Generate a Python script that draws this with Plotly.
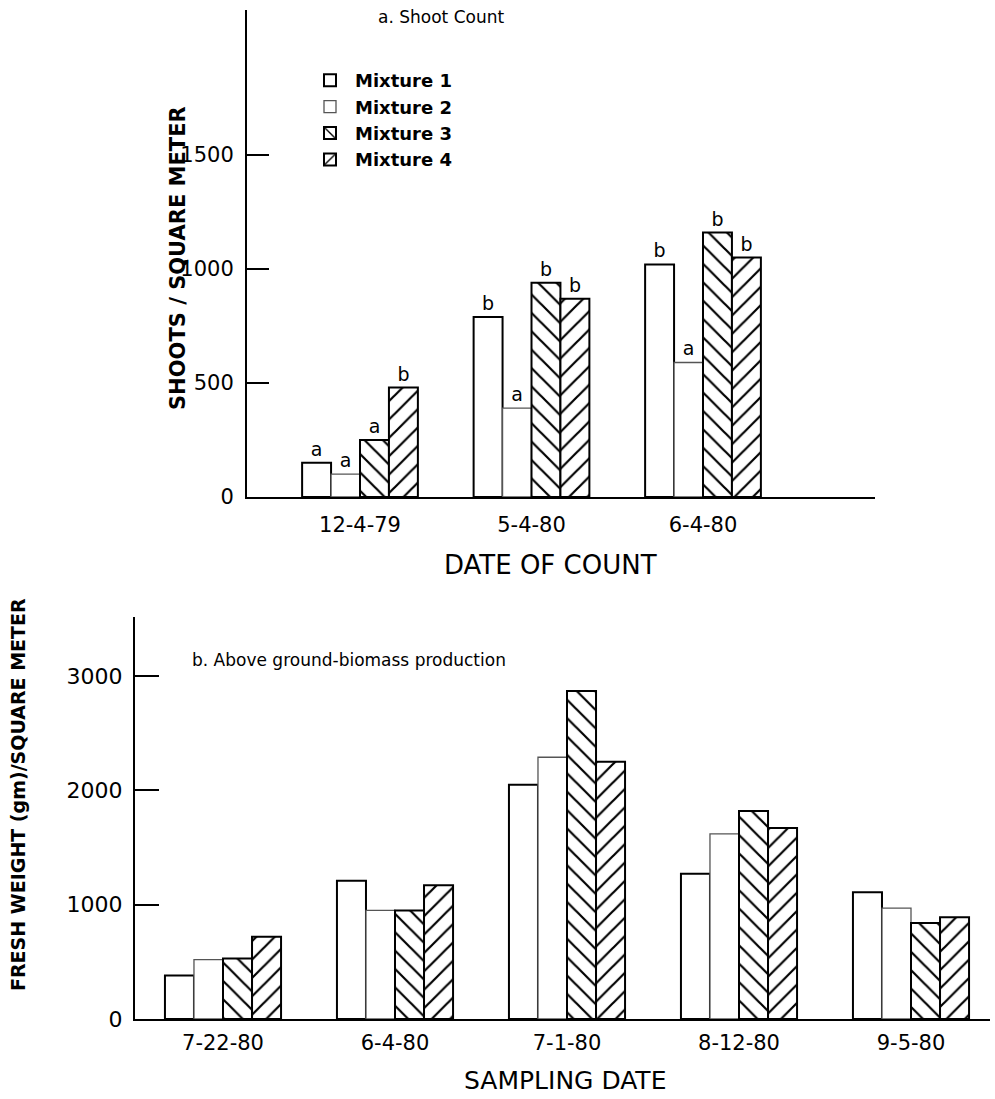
import plotly.graph_objects as go

# ---------------- data ----------------
mixtures = ["Mixture 1", "Mixture 2", "Mixture 3", "Mixture 4"]

count_dates = ["12-4-79", "5-4-80", "6-4-80"]
shoot_m1 = [150, 790, 1020]
shoot_m2 = [100, 390, 590]
shoot_m3 = [250, 940, 1160]
shoot_m4 = [480, 870, 1050]
shoot_sig_m1 = ["a", "b", "b"]
shoot_sig_m2 = ["a", "a", "a"]
shoot_sig_m3 = ["a", "b", "b"]
shoot_sig_m4 = ["b", "b", "b"]

sample_dates = ["7-22-80", "6-4-80", "7-1-80", "8-12-80", "9-5-80"]
bio_m1 = [380, 1210, 2050, 1270, 1110]
bio_m2 = [520, 950, 2290, 1620, 970]
bio_m3 = [530, 950, 2870, 1820, 840]
bio_m4 = [720, 1170, 2250, 1670, 890]

shoot_ticks = [0, 500, 1000, 1500]
bio_ticks = [0, 1000, 2000, 3000]

# ---------------- styling ----------------
FONT = "DejaVu Sans"
W, H = 995, 1099

def px_x(p):
    return p / W

def px_y(p):
    return 1 - p / H

def hatch(shape):
    return dict(shape=shape, fgcolor="black", bgcolor="white", fgopacity=1,
                size=13, solidity=0.17, fillmode="overlay")

styles = [
    dict(color="white", line=dict(color="black", width=2)),
    dict(color="white", line=dict(color="#555555", width=1.3)),
    dict(color="white", line=dict(color="black", width=2), pattern=hatch("\\")),
    dict(color="white", line=dict(color="black", width=2), pattern=hatch("/")),
]

fig = go.Figure()

shoot_vals = [shoot_m1, shoot_m2, shoot_m3, shoot_m4]
shoot_sigs = [shoot_sig_m1, shoot_sig_m2, shoot_sig_m3, shoot_sig_m4]
for name, vals, sig, st in zip(mixtures, shoot_vals, shoot_sigs, styles):
    fig.add_trace(go.Bar(
        x=count_dates, y=vals, name=name, marker=st,
        text=sig, textposition="outside", cliponaxis=False,
        textfont=dict(family=FONT, size=19, color="black"),
        xaxis="x", yaxis="y", legendgroup=name,
    ))

bio_vals = [bio_m1, bio_m2, bio_m3, bio_m4]
for name, vals, st in zip(mixtures, bio_vals, styles):
    fig.add_trace(go.Bar(
        x=sample_dates, y=vals, name=name, marker=st, showlegend=False,
        xaxis="x2", yaxis="y2", legendgroup=name,
    ))

def axis_common(tick_size):
    return dict(showline=True, linecolor="black", linewidth=2, showgrid=False,
                zeroline=False, automargin=False,
                tickfont=dict(family=FONT, size=tick_size, color="black"))

# top panel geometry (pixels)
t_left, t_right, t_zero, t_top = 247, 875, 497, 10
t_c0, t_step = 360, 171.5
t_ppu = 0.228  # pixels per unit
# bottom panel geometry
b_left, b_right, b_zero, b_top = 135, 990, 1019, 617
b_c0, b_step = 223, 172
b_ppu = 0.1143

fig.update_layout(
    width=W, height=H,
    margin=dict(l=0, r=0, t=0, b=0),
    paper_bgcolor="white", plot_bgcolor="white",
    barmode="group", bargap=0.325, bargroupgap=0,
    font=dict(family=FONT, color="black"),
    showlegend=True,
    legend=dict(x=px_x(305), y=px_y(62), xanchor="left", yanchor="top",
                font=dict(family=FONT, size=18, color="black", weight="bold"),
                tracegroupgap=0, bgcolor="rgba(0,0,0,0)", itemwidth=40),
    xaxis=dict(domain=[px_x(t_left), px_x(t_right)], anchor="y",
               range=[-(t_c0 - t_left) / t_step, (t_right - t_c0) / t_step],
               ticks="", ticklabelstandoff=8, **axis_common(21)),
    yaxis=dict(domain=[px_y(t_zero), px_y(t_top)], anchor="x",
               range=[0, (t_zero - t_top) / t_ppu],
               tickvals=shoot_ticks, ticks="inside", ticklen=22, tickwidth=2,
               tickcolor="black", ticklabelstandoff=7, **axis_common(21)),
    xaxis2=dict(domain=[px_x(b_left), px_x(b_right)], anchor="y2",
                range=[-(b_c0 - b_left) / b_step, (b_right - b_c0) / b_step],
                ticks="", ticklabelstandoff=4, **axis_common(21)),
    yaxis2=dict(domain=[px_y(b_zero), px_y(b_top)], anchor="x2",
                range=[0, (b_zero - b_top) / b_ppu],
                tickvals=bio_ticks, ticks="inside", ticklen=24, tickwidth=2,
                tickcolor="black", ticklabelstandoff=6, **axis_common(22)),
)

ann = [
    dict(text="a. Shoot Count", x=px_x(441), y=px_y(17), size=17, bold=False, angle=0),
    dict(text="SHOOTS / SQUARE METER", x=px_x(178), y=px_y(258), size=21, bold=True, angle=-90),
    dict(text="DATE OF COUNT", x=px_x(550), y=px_y(565), size=26, bold=False, angle=0),
    dict(text="b. Above ground-biomass production", x=px_x(349), y=px_y(660), size=17, bold=False, angle=0),
    dict(text="FRESH WEIGHT (gm)/SQUARE METER", x=px_x(18), y=px_y(795), size=19, bold=True, angle=-90),
    dict(text="SAMPLING DATE", x=px_x(565), y=px_y(1080), size=25, bold=False, angle=0),
]
for a in ann:
    fig.add_annotation(
        text=a["text"], x=a["x"], y=a["y"], xref="paper", yref="paper",
        xanchor="center", yanchor="middle", showarrow=False, textangle=a["angle"],
        font=dict(family=FONT, size=a["size"], color="black",
                  weight="bold" if a["bold"] else "normal"),
    )

fig.write_html("out.html", config={"displayModeBar": False},
               post_script="document.body.style.margin='0';document.body.style.overflow='hidden';")
